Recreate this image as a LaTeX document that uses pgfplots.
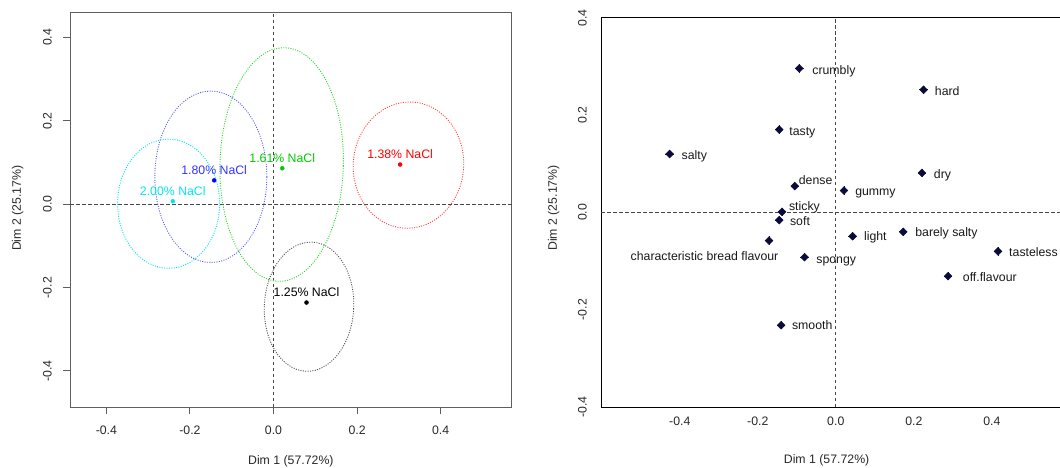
\documentclass[border=0pt]{standalone}
\usepackage{pgfplots}
\usepackage{pgfplotstable}
\pgfplotsset{compat=1.18}
\usepackage{fontspec}
\setmainfont{Liberation Sans}

\newcommand\fs{\fontsize{12.3pt}{14pt}\selectfont}

\definecolor{rred}{RGB}{255,0,0}
\definecolor{rgreen}{RGB}{0,205,0}
\definecolor{rblue}{RGB}{0,0,255}
\definecolor{rcyan}{RGB}{0,230,235}
\definecolor{boxgray}{RGB}{95,95,95}
\definecolor{zerogray}{RGB}{70,70,70}
\definecolor{txtgray}{RGB}{40,40,40}
\definecolor{varnavy}{RGB}{10,10,60}

% sample coordinates on the first two dimensions
\pgfplotstableread{
x      y      lab
0.079  -0.236 {1.25\% NaCl}
0.303  0.095  {1.38\% NaCl}
0.021  0.086  {1.61\% NaCl}
-0.142 0.057  {1.80\% NaCl}
-0.241 0.007  {2.00\% NaCl}
}\samples

% sensory attributes (variables)
\pgfplotstableread{
x       y
-0.0935 0.296
0.225   0.252
-0.145  0.170
-0.426  0.120
0.221   0.081
-0.105  0.054
0.021   0.045
-0.138  0.001
-0.145  -0.016
-0.171  -0.058
0.043   -0.049
0.173   -0.040
-0.080  -0.092
0.416   -0.080
0.288   -0.131
-0.140  -0.232
}\attributes

% attribute label positions (left edge, vertical centre)
\pgfplotstableread{
x       y       lab
-0.0606 0.2933  crumbly
0.2537  0.2503  hard
-0.1195 0.1675  tasty
-0.3957 0.1176  salty
0.2511  0.0793  dry
-0.0952 0.0656  dense
0.0494  0.0431  gummy
-0.1203 0.0130  sticky
-0.1177 -0.0178 soft
-0.5264 -0.0903 {characteristic bread flavour}
0.0719  -0.0492 light
0.2035  -0.0403 {barely salty}
-0.0502 -0.0950 spongy
0.4442  -0.0807 tasteless
0.3255  -0.1326 off.flavour
-0.1126 -0.2325 smooth
}\attrlabels

\begin{document}
\begin{tikzpicture}[font=\fs]

%---------------- individuals factor map with confidence ellipses
\begin{axis}[
  at={(70pt,59.8pt)}, anchor=south west,
  scale only axis, width=441.7pt, height=394.9pt,
  xmin=-0.487, xmax=0.570, ymin=-0.487, ymax=0.460,
  clip=false,
  axis line style={draw=boxgray, line width=1pt},
  xtick={-0.4,-0.2,0,0.2,0.4}, xticklabels={-0.4,-0.2,0.0,0.2,0.4},
  ytick={-0.4,-0.2,0,0.2,0.4}, yticklabels={-0.4,-0.2,0.0,0.2,0.4},
  xtick pos=lower, ytick pos=lower,
  tick align=outside, major tick length=7pt,
  tick style={draw=boxgray, line width=0.9pt},
  xticklabel style={font=\fs, text=txtgray, anchor=center},
  yticklabel style={font=\fs, text=txtgray, anchor=center, rotate=90},
  xticklabel shift=15.8pt, yticklabel shift=15.7pt,
  xlabel={Dim 1 (57.72\%)}, ylabel={Dim 2 (25.17\%)},
  xlabel style={font=\fs, text=txtgray, at={(axis description cs:0.5,0)}, anchor=center, yshift=-54.3pt},
  ylabel style={font=\fs, text=txtgray, at={(axis description cs:-0.1186,0.504)}, anchor=center},
]
\addplot[zerogray, line width=0.9pt, dash pattern=on 3.5pt off 2.5pt] coordinates {(-0.487,0) (0.570,0)};
\addplot[zerogray, line width=0.9pt, dash pattern=on 3.5pt off 2.5pt] coordinates {(0,-0.487) (0,0.460)};

\draw[rcyan, line width=0.9pt, dash pattern=on 1pt off 1.4pt] (axis cs:-0.251,0.001) ellipse [x radius=51.0pt, y radius=64.6pt];
\draw[rblue!65!white, line width=0.9pt, dash pattern=on 1pt off 1.4pt] (axis cs:-0.150,0.0655) ellipse [x radius=56.0pt, y radius=85.7pt];
\draw[rgreen!85!white, line width=0.9pt, dash pattern=on 1pt off 1.4pt] (axis cs:0.0195,0.095) ellipse [x radius=61.7pt, y radius=116.8pt, rotate=-1.5];
\draw[rred!75!white, line width=0.9pt, dash pattern=on 1pt off 1.4pt] (axis cs:0.323,0.0935) ellipse [x radius=55.2pt, y radius=63.2pt, rotate=-5];
\draw[black!70!white, line width=0.9pt, dash pattern=on 1pt off 1.4pt] (axis cs:0.085,-0.246) ellipse [x radius=44.7pt, y radius=64.6pt, rotate=-3];

\addplot[only marks, mark=*, mark size=2pt, black, nodes near coords, point meta=explicit symbolic,
  nodes near coords style={font=\fs, anchor=south, yshift=2.5pt}] coordinates {(0.079,-0.236) [1.25\% NaCl]};
\addplot[only marks, mark=*, mark size=2pt, rred, nodes near coords, point meta=explicit symbolic,
  nodes near coords style={font=\fs, anchor=south, yshift=2.5pt}] coordinates {(0.303,0.095) [1.38\% NaCl]};
\addplot[only marks, mark=*, mark size=2pt, rgreen, nodes near coords, point meta=explicit symbolic,
  nodes near coords style={font=\fs, anchor=south, yshift=2.5pt}] coordinates {(0.021,0.086) [1.61\% NaCl]};
\addplot[only marks, mark=*, mark size=2pt, rblue, nodes near coords, point meta=explicit symbolic,
  nodes near coords style={font=\fs, text=rblue!80!white, anchor=south, yshift=2.5pt}] coordinates {(-0.142,0.057) [1.80\% NaCl]};
\addplot[only marks, mark=*, mark size=2pt, rcyan, nodes near coords, point meta=explicit symbolic,
  nodes near coords style={font=\fs, anchor=south, yshift=2.5pt}] coordinates {(-0.241,0.007) [2.00\% NaCl]};
\end{axis}

%---------------- variables factor map
\begin{axis}[
  at={(601pt,60pt)}, anchor=south west,
  scale only axis, width=468.8pt, height=389.7pt,
  xmin=-0.602, xmax=0.6, ymin=-0.4, ymax=0.401,
  clip=false,
  axis line style={draw=black, line width=1pt},
  xtick={-0.4,-0.2,0,0.2,0.4}, xticklabels={-0.4,-0.2,0.0,0.2,0.4},
  ytick={-0.4,-0.2,0,0.2,0.4}, yticklabels={-0.4,-0.2,0.0,0.2,0.4},
  major tick length=0pt,
  xticklabel style={font=\fs, text=txtgray, anchor=center},
  yticklabel style={font=\fs, text=txtgray, anchor=center, rotate=90},
  xticklabel shift=14.7pt, yticklabel shift=18.6pt,
  xlabel={Dim 1 (57.72\%)}, ylabel={Dim 2 (25.17\%)},
  xlabel style={font=\fs, text=txtgray, at={(axis description cs:0.4812,0)}, anchor=center, yshift=-53.7pt},
  ylabel style={font=\fs, text=txtgray, at={(axis description cs:-0.1011,0.5107)}, anchor=center},
]
\addplot[zerogray, line width=0.9pt, dash pattern=on 3.5pt off 2.5pt] coordinates {(-0.602,0) (0.6,0)};
\addplot[zerogray, line width=0.9pt, dash pattern=on 3.5pt off 2.5pt] coordinates {(0,-0.4) (0,0.401)};

\addplot[only marks, mark=square*, mark size=2.8pt, mark options={rotate=45, fill=varnavy, draw=varnavy}] table[x=x, y=y] {\attributes};
\addplot[only marks, mark=+, mark size=4.2pt, mark options={draw=varnavy, line width=0.9pt}] table[x=x, y=y] {\attributes};

\addplot[draw=none, mark=none, nodes near coords, point meta=explicit symbolic,
  nodes near coords style={font=\fs, text=black!90, anchor=base west, inner sep=0pt, yshift=-4.4pt}]
  table[x=x, y=y, meta=lab] {\attrlabels};
\end{axis}

\pgfresetboundingbox
\path (0pt,0pt) rectangle (1060pt,467pt);
\end{tikzpicture}
\end{document}
